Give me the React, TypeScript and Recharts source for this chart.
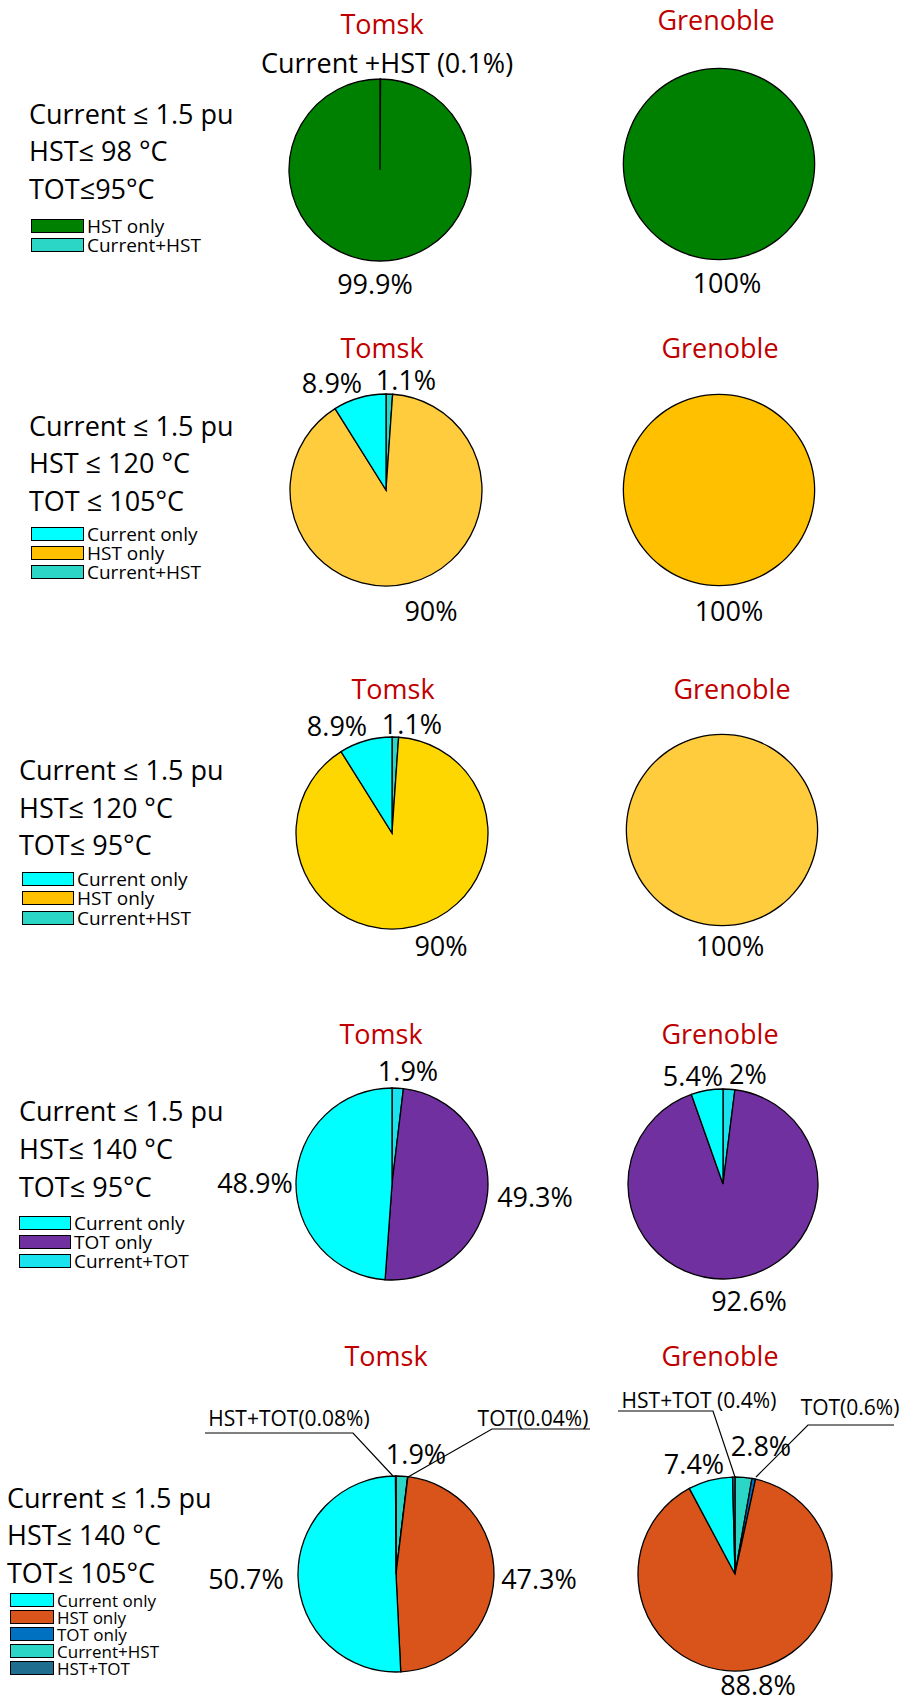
import React from 'react';
import { PieChart, Pie, Cell } from 'recharts';

// slice order is clockwise from 12 o'clock
const row1Tomsk = [
  { name: 'Current+HST', value: 0.1 },
  { name: 'HST only', value: 99.9 },
];
const row1Grenoble = [{ name: 'HST only', value: 100 }];

const row2Tomsk = [
  { name: 'Current+HST', value: 1.1 },
  { name: 'HST only', value: 90 },
  { name: 'Current only', value: 8.9 },
];
const row2Grenoble = [{ name: 'HST only', value: 100 }];

const row3Tomsk = [
  { name: 'Current+HST', value: 1.1 },
  { name: 'HST only', value: 90 },
  { name: 'Current only', value: 8.9 },
];
const row3Grenoble = [{ name: 'HST only', value: 100 }];

const row4Tomsk = [
  { name: 'Current+TOT', value: 1.9 },
  { name: 'TOT only', value: 49.3 },
  { name: 'Current only', value: 48.9 },
];
const row4Grenoble = [
  { name: 'Current+TOT', value: 2 },
  { name: 'TOT only', value: 92.6 },
  { name: 'Current only', value: 5.4 },
];

const row5Tomsk = [
  { name: 'Current+HST', value: 1.9 },
  { name: 'TOT only', value: 0.04 },
  { name: 'HST only', value: 47.3 },
  { name: 'Current only', value: 50.7 },
  { name: 'HST+TOT', value: 0.08 },
];
const row5Grenoble = [
  { name: 'Current+HST', value: 2.8 },
  { name: 'TOT only', value: 0.6 },
  { name: 'HST only', value: 88.8 },
  { name: 'Current only', value: 7.4 },
  { name: 'HST+TOT', value: 0.4 },
];

const conditions1 = ['Current ≤ 1.5 pu', 'HST≤ 98 °C', 'TOT≤95°C'];
const conditions2 = ['Current ≤ 1.5 pu', 'HST ≤ 120 °C', 'TOT ≤ 105°C'];
const conditions3 = ['Current ≤ 1.5 pu', 'HST≤ 120 °C', 'TOT≤ 95°C'];
const conditions4 = ['Current ≤ 1.5 pu', 'HST≤ 140 °C', 'TOT≤ 95°C'];
const conditions5 = ['Current ≤ 1.5 pu', 'HST≤ 140 °C', 'TOT≤ 105°C'];

const legend1 = ['HST only', 'Current+HST'];
const legend2 = ['Current only', 'HST only', 'Current+HST'];
const legend3 = ['Current only', 'HST only', 'Current+HST'];
const legend4 = ['Current only', 'TOT only', 'Current+TOT'];
const legend5 = ['Current only', 'HST only', 'TOT only', 'Current+HST', 'HST+TOT'];

const cityNames = ['Tomsk', 'Grenoble'];

// colours
const CYAN = '#00FFFF';
const TEAL = '#2CD6C6';
const pal1 = { 'HST only': '#008000', 'Current+HST': TEAL };
const pal2T = { 'Current only': CYAN, 'HST only': '#FFCC3E', 'Current+HST': TEAL };
const pal2G = { 'HST only': '#FFC000' };
const pal2L = { 'Current only': CYAN, 'HST only': '#FFC000', 'Current+HST': TEAL };
const pal3T = { 'Current only': CYAN, 'HST only': '#FFD700', 'Current+HST': TEAL };
const pal3G = { 'HST only': '#FFCC3E' };
const pal4 = { 'Current only': CYAN, 'TOT only': '#7030A0', 'Current+TOT': '#19E3EE' };
const pal5 = {
  'Current only': CYAN,
  'HST only': '#D9541A',
  'TOT only': '#0070C0',
  'Current+HST': TEAL,
  'HST+TOT': '#1F6E8F',
};

const FONT = '"Open Sans", "DejaVu Sans", sans-serif';
const TITLE_RED = '#C00000';

type Slice = { name: string; value: number };
type Lbl = { i: number; x: number; y: number; fmt?: (v: number) => string; size?: number };

const pct = (v: number) => `${v}%`;

interface PieSpec {
  data: Slice[];
  pal: Record<string, string>;
  cx: number;
  cy: number;
  r: number;
  title: { x: number; y: number };
  labels: Lbl[];
}

interface RowSpec {
  conditions: string[];
  condX: number;
  condY: number[];
  legend: string[];
  legendPal: Record<string, string>;
  legendX: number;
  legendY: number[];
  legendFont: number;
  boxW: number;
  pies: PieSpec[];
}

const rows: RowSpec[] = [
  {
    conditions: conditions1,
    condX: 29,
    condY: [113, 150, 188],
    legend: legend1,
    legendPal: pal1,
    legendX: 31,
    legendY: [226, 245],
    legendFont: 19,
    boxW: 53,
    pies: [
      {
        data: row1Tomsk, pal: pal1, cx: 380, cy: 170, r: 91, title: { x: 382, y: 23 },
        labels: [
          { i: 0, x: 387, y: 62, fmt: (v) => `Current +HST (${v}%)` },
          { i: 1, x: 375, y: 283 },
        ],
      },
      {
        data: row1Grenoble, pal: pal1, cx: 719, cy: 164, r: 95, title: { x: 716, y: 19 },
        labels: [{ i: 0, x: 727, y: 282 }],
      },
    ],
  },
  {
    conditions: conditions2,
    condX: 29,
    condY: [425, 462, 500],
    legend: legend2,
    legendPal: pal2L,
    legendX: 31,
    legendY: [534, 553, 572],
    legendFont: 19,
    boxW: 53,
    pies: [
      {
        data: row2Tomsk, pal: pal2T, cx: 386, cy: 490, r: 96, title: { x: 382, y: 347 },
        labels: [
          { i: 2, x: 332, y: 382 },
          { i: 0, x: 406, y: 379 },
          { i: 1, x: 431, y: 610 },
        ],
      },
      {
        data: row2Grenoble, pal: pal2G, cx: 719, cy: 490, r: 95, title: { x: 720, y: 347 },
        labels: [{ i: 0, x: 729, y: 610 }],
      },
    ],
  },
  {
    conditions: conditions3,
    condX: 19,
    condY: [769, 807, 844],
    legend: legend3,
    legendPal: pal2L,
    legendX: 22,
    legendY: [879, 898, 918],
    legendFont: 19,
    boxW: 52,
    pies: [
      {
        data: row3Tomsk, pal: pal3T, cx: 392, cy: 833, r: 96, title: { x: 393, y: 688 },
        labels: [
          { i: 2, x: 337, y: 725 },
          { i: 0, x: 412, y: 723 },
          { i: 1, x: 441, y: 945 },
        ],
      },
      {
        data: row3Grenoble, pal: pal3G, cx: 722, cy: 830, r: 95, title: { x: 732, y: 688 },
        labels: [{ i: 0, x: 730, y: 945 }],
      },
    ],
  },
  {
    conditions: conditions4,
    condX: 19,
    condY: [1110, 1148, 1186],
    legend: legend4,
    legendPal: pal4,
    legendX: 19,
    legendY: [1223, 1242, 1261],
    legendFont: 19,
    boxW: 52,
    pies: [
      {
        data: row4Tomsk, pal: pal4, cx: 392, cy: 1184, r: 96, title: { x: 381, y: 1033 },
        labels: [
          { i: 0, x: 408, y: 1070 },
          { i: 2, x: 255, y: 1182 },
          { i: 1, x: 535, y: 1196 },
        ],
      },
      {
        data: row4Grenoble, pal: pal4, cx: 723, cy: 1184, r: 95, title: { x: 720, y: 1033 },
        labels: [
          { i: 2, x: 693, y: 1075 },
          { i: 0, x: 748, y: 1073 },
          { i: 1, x: 749, y: 1300 },
        ],
      },
    ],
  },
  {
    conditions: conditions5,
    condX: 7,
    condY: [1497, 1534, 1572],
    legend: legend5,
    legendPal: pal5,
    legendX: 10,
    legendY: [1600, 1617, 1634, 1651, 1668],
    legendFont: 17,
    boxW: 44,
    pies: [
      {
        data: row5Tomsk, pal: pal5, cx: 396, cy: 1574, r: 98, title: { x: 386, y: 1355 },
        labels: [
          { i: 0, x: 416, y: 1453 },
          { i: 3, x: 246, y: 1578 },
          { i: 2, x: 539, y: 1578 },
          { i: 4, x: 289, y: 1418, size: 21, fmt: (v) => `HST+TOT(${v}%)` },
          { i: 1, x: 533, y: 1418, size: 21, fmt: (v) => `TOT(${v}%)` },
        ],
      },
      {
        data: row5Grenoble, pal: pal5, cx: 735, cy: 1574, r: 97, title: { x: 720, y: 1355 },
        labels: [
          { i: 3, x: 694, y: 1463 },
          { i: 0, x: 761, y: 1445 },
          { i: 2, x: 758, y: 1684 },
          { i: 4, x: 699, y: 1400, size: 21, fmt: (v) => `HST+TOT (${v}%)` },
          { i: 1, x: 850, y: 1407, size: 21, fmt: (v) => `TOT(${v}%)` },
        ],
      },
    ],
  },
];

// leader lines for the tiny slices in the last row: underline + pointer
const leaders = [
  [205, 1433, 353, 1433, 393, 1476],
  [590, 1429, 492, 1429, 408, 1477],
  [618, 1411, 713, 1411, 735, 1477],
  [894, 1425, 808, 1425, 756, 1477],
];

const centered = (x: number, y: number, size: number, color = '#000'): React.CSSProperties => ({
  position: 'absolute',
  left: x,
  top: y,
  transform: 'translate(-50%, -50%)',
  fontSize: size,
  lineHeight: 1,
  whiteSpace: 'nowrap',
  color,
});

const PieBlock: React.FC<{ spec: PieSpec }> = ({ spec }) => {
  const size = spec.r * 2 + 12;
  const c = size / 2;
  const single = spec.data.length === 1;
  return (
    <div style={{ position: 'absolute', left: spec.cx - c, top: spec.cy - c, width: size, height: size }}>
      <PieChart width={size} height={size} margin={{ top: 0, right: 0, bottom: 0, left: 0 }}>
        {single && (
          <Pie
            data={spec.data}
            dataKey="value"
            cx={c}
            cy={c}
            outerRadius={spec.r + 1.3}
            startAngle={90}
            endAngle={-270}
            fill="#000"
            stroke="none"
            isAnimationActive={false}
          />
        )}
        <Pie
          data={spec.data}
          dataKey="value"
          nameKey="name"
          cx={c}
          cy={c}
          outerRadius={spec.r}
          startAngle={90}
          endAngle={-270}
          stroke={single ? 'none' : '#000'}
          strokeWidth={1.3}
          isAnimationActive={false}
        >
          {spec.data.map((d) => (
            <Cell key={d.name} fill={spec.pal[d.name]} />
          ))}
        </Pie>
      </PieChart>
    </div>
  );
};

export default function App() {
  return (
    <div
      style={{
        position: 'absolute',
        left: 0,
        top: 0,
        width: 905,
        height: 1697,
        background: '#fff',
        fontFamily: FONT,
        overflow: 'hidden',
      }}
    >
      {rows.map((row, ri) => (
        <React.Fragment key={ri}>
          {row.conditions.map((t, k) => (
            <div
              key={'c' + k}
              style={{
                position: 'absolute',
                left: row.condX,
                top: row.condY[k],
                transform: 'translateY(-50%)',
                fontSize: 27,
                lineHeight: 1,
                whiteSpace: 'nowrap',
              }}
            >
              {t}
            </div>
          ))}
          {row.legend.map((name, k) => (
            <div
              key={'l' + k}
              style={{
                position: 'absolute',
                left: row.legendX,
                top: row.legendY[k] - 8,
                height: 16,
                display: 'flex',
                alignItems: 'center',
                whiteSpace: 'nowrap',
              }}
            >
              <div
                style={{
                  width: row.boxW,
                  height: 14,
                  boxSizing: 'border-box',
                  border: '1.5px solid #000',
                  background: row.legendPal[name],
                }}
              />
              <span style={{ marginLeft: 3, fontSize: row.legendFont, lineHeight: 1 }}>{name}</span>
            </div>
          ))}
          {row.pies.map((p, pi) => (
            <React.Fragment key={pi}>
              <div style={centered(p.title.x, p.title.y, 27, TITLE_RED)}>{cityNames[pi]}</div>
              <PieBlock spec={p} />
              {p.labels.map((l, li) => (
                <div key={li} style={centered(l.x, l.y, l.size ?? 27)}>
                  {(l.fmt ?? pct)(p.data[l.i].value)}
                </div>
              ))}
            </React.Fragment>
          ))}
        </React.Fragment>
      ))}
      <svg
        width={905}
        height={1697}
        style={{ position: 'absolute', left: 0, top: 0, pointerEvents: 'none' }}
      >
        {leaders.map((pts, k) => (
          <polyline
            key={k}
            points={`${pts[0]},${pts[1]} ${pts[2]},${pts[3]} ${pts[4]},${pts[5]}`}
            fill="none"
            stroke="#000"
            strokeWidth={1.2}
          />
        ))}
      </svg>
    </div>
  );
}
